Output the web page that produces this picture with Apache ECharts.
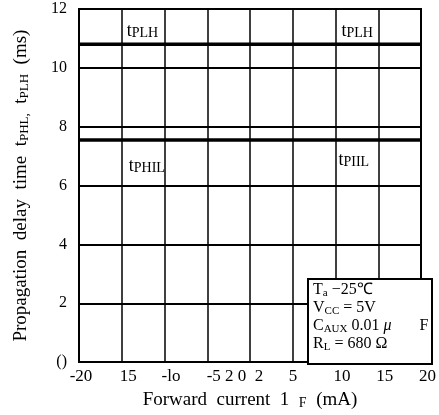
<!DOCTYPE html>
<html>
<head>
<meta charset="utf-8">
<script src="https://cdn.jsdelivr.net/npm/echarts/dist/echarts.min.js"></script>
<style>
  html, body { margin: 0; padding: 0; background: #fff; }
  #chart { width: 439px; height: 415px; }
</style>
</head>
<body>
<div id="chart"></div>
<script>
// Forward current range (mA) and the printed tick labels along it
const currentRange = [-20, 20];
const currentStep = 5;
const xTickLabels = ['-20', '15', '-lo', '', '-5 2 0  2      5', '', '10', '15', '20'];

// Delay axis (ms)
const delayRange = [0, 12];
const delayStep = 2;
const yTickLabels = ['()', '2', '4', '6', '8', '10', '12'];

// Propagation delay at both ends of the current range
const tPLH = [10.8, 10.8];
const tPHL = [7.55, 7.55];

// Currents where the curve names are printed
const curveNameAt = [-15, 10];

const FONT = "'Liberation Serif', 'Times New Roman', serif";

const chart = echarts.init(document.getElementById('chart'), null, { renderer: 'canvas' });

const nameRich = {
  m: { fontFamily: FONT, fontSize: 18, lineHeight: 18, color: '#000' },
  s: { fontFamily: FONT, fontSize: 14, lineHeight: 11, verticalAlign: 'bottom', color: '#000' },
  s2: { fontFamily: FONT, fontSize: 14, lineHeight: 5, verticalAlign: 'bottom', color: '#000' }
};

function curveNamePoint(x, y, text, offset) {
  return {
    coord: [x, y],
    label: { show: true, position: offset, formatter: text, rich: nameRich }
  };
}

function flatLine(values) {
  return [[currentRange[0], values[0]], [currentRange[1], values[1]]];
}

const option = {
  animation: false,
  backgroundColor: '#fff',
  grid: {
    left: 79, right: 7, top: 9, bottom: 51,
    show: true, borderColor: '#000', borderWidth: 2, backgroundColor: 'transparent'
  },
  xAxis: {
    type: 'value',
    min: currentRange[0], max: currentRange[1], interval: currentStep,
    name: 'Forward  current  1  {s|F}  (mA)',
    nameLocation: 'middle',
    nameGap: 27,
    nameTextStyle: {
      fontFamily: FONT, fontSize: 19, lineHeight: 20, color: '#000',
      rich: { s: { fontFamily: FONT, fontSize: 14, lineHeight: 12, verticalAlign: 'bottom', color: '#000' } }
    },
    axisLine: { show: true, onZero: false, lineStyle: { color: '#000', width: 2 } },
    axisTick: { show: false },
    splitLine: { show: true, lineStyle: { color: '#000', width: 1.5 } },
    axisLabel: {
      margin: 6,
      formatter: function (v) {
        const i = Math.round((v - currentRange[0]) / currentStep);
        const t = xTickLabels[i];
        if (!t) return '';
        const key = i === 4 ? 'c' : (i === 0 ? 'e' : 'a');
        return '{' + key + '|' + t + '}';
      },
      rich: {
        a: { fontFamily: FONT, fontSize: 17, lineHeight: 17, color: '#000', padding: [0, 0, 0, 13] },
        e: { fontFamily: FONT, fontSize: 17, lineHeight: 17, color: '#000', padding: [0, 0, 0, 4] },
        c: { fontFamily: FONT, fontSize: 17, lineHeight: 17, color: '#000', padding: [0, 0, 0, 4] }
      }
    }
  },
  yAxis: {
    type: 'value',
    min: delayRange[0], max: delayRange[1], interval: delayStep,
    name: 'Propagation  delay  time  t{s|PHL,}  t{s|PLH}  (ms)',
    nameLocation: 'middle',
    nameGap: 48,
    nameTextStyle: {
      fontFamily: FONT, fontSize: 19, lineHeight: 20, color: '#000',
      rich: { s: { fontFamily: FONT, fontSize: 13, lineHeight: 12, verticalAlign: 'bottom', color: '#000' } }
    },
    axisLine: { show: true, onZero: false, lineStyle: { color: '#000', width: 2 } },
    axisTick: { show: false },
    splitLine: { show: true, lineStyle: { color: '#000', width: 2 } },
    axisLabel: {
      margin: 12,
      fontFamily: FONT, fontSize: 16, color: '#000',
      formatter: function (v) { return yTickLabels[Math.round(v / delayStep)]; }
    }
  },
  series: [
    {
      name: 'tPLH',
      type: 'line',
      data: flatLine(tPLH),
      symbol: 'none',
      lineStyle: { color: '#000', width: 3.6 },
      z: 5,
      markPoint: {
        symbol: 'circle', symbolSize: 0, silent: true,
        data: [
          curveNamePoint(curveNameAt[0], tPLH[0], '{m|t}{s|PLH}', [5, -22]),
          curveNamePoint(curveNameAt[1], tPLH[1], '{m|t}{s|PLH}', [6, -22])
        ]
      }
    },
    {
      name: 'tPHL',
      type: 'line',
      data: flatLine(tPHL),
      symbol: 'none',
      lineStyle: { color: '#000', width: 3.6 },
      z: 5,
      markPoint: {
        symbol: 'circle', symbolSize: 0, silent: true,
        data: [
          curveNamePoint(curveNameAt[0], tPHL[0], '{m|t}{s|PHIL}', [7, 17]),
          curveNamePoint(curveNameAt[1], tPHL[1], '{m|t}{s|PI}{s2|IL}', [3, 11])
        ]
      }
    }
  ],
  graphic: [
    {
      type: 'rect', z: 100,
      shape: { x: 308, y: 279, width: 124, height: 85 },
      style: { fill: '#fff', stroke: '#000', lineWidth: 2 }
    },
    {
      type: 'text', z: 101,
      x: 313, y: 281,
      style: {
        text: '{m|T}{s|a}{m| −25℃}\n{m|V}{s|CC}{m| = 5V}\n{m|C}{s|AUX}{m| 0.01 }{mu|μ}{m|       F}\n{m|R}{s|L}{m| = 680 Ω}',
        verticalAlign: 'top', align: 'left', fill: '#000',
        rich: {
          m: { fontFamily: FONT, fontSize: 16, lineHeight: 18, fill: '#000' },
          mu: { fontFamily: FONT, fontSize: 16, lineHeight: 18, fontStyle: 'italic', fill: '#000' },
          s: { fontFamily: FONT, fontSize: 11, lineHeight: 10, verticalAlign: 'bottom', fill: '#000' }
        }
      }
    }
  ]
};

chart.setOption(option);
</script>
</body>
</html>
